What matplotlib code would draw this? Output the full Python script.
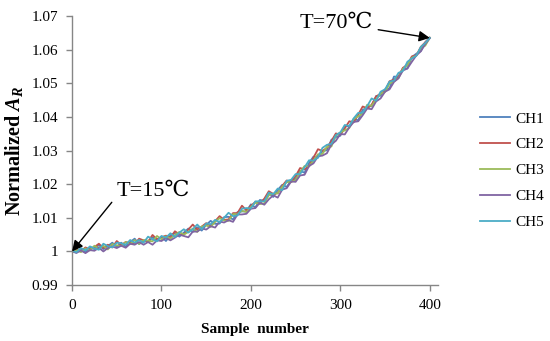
import numpy as np
import matplotlib
matplotlib.use("Agg")
import matplotlib.pyplot as plt
from matplotlib.ticker import FuncFormatter

plt.rcParams["font.family"] = "serif"
plt.rcParams["font.serif"] = ["Liberation Serif", "DejaVu Serif"]
plt.rcParams["mathtext.fontset"] = "custom"
plt.rcParams["mathtext.rm"] = "Liberation Serif:bold"
plt.rcParams["mathtext.it"] = "Liberation Serif:italic:bold"

# sample index (every 5th sample)
samples = list(range(0, 401, 5))

# normalized A_R per channel
ch1 = [1.0000, 0.9996, 1.0008, 0.9997, 1.0013, 1.0007, 1.0019, 1.0007, 1.0016, 1.0026, 1.0014,
       1.0026, 1.0014, 1.0028, 1.0038, 1.0022, 1.0032, 1.0028, 1.0042, 1.0034, 1.0044,
       1.0031, 1.0048, 1.0055, 1.0044, 1.0056, 1.0068, 1.0058, 1.0072, 1.0062, 1.0079,
       1.0091, 1.0082, 1.0083, 1.0102, 1.0103, 1.0095, 1.0117, 1.0119, 1.0119, 1.0140,
       1.0131, 1.0153, 1.0151, 1.0173, 1.0162, 1.0183, 1.0198, 1.0192, 1.0211, 1.0216,
       1.0240, 1.0234, 1.0263, 1.0282, 1.0279, 1.0298, 1.0301, 1.0332, 1.0340, 1.0344,
       1.0374, 1.0371, 1.0394, 1.0390, 1.0421, 1.0428, 1.0433, 1.0462, 1.0463, 1.0482,
       1.0485, 1.0520, 1.0519, 1.0545, 1.0544, 1.0578, 1.0588, 1.0596, 1.0622, 1.0635]
ch2 = [1.0001, 1.0005, 1.0001, 1.0012, 1.0006, 1.0013, 1.0023, 1.0010, 1.0020, 1.0012, 1.0031,
       1.0019, 1.0028, 1.0025, 1.0022, 1.0038, 1.0033, 1.0029, 1.0049, 1.0036, 1.0042,
       1.0047, 1.0041, 1.0060, 1.0051, 1.0050, 1.0065, 1.0080, 1.0065, 1.0074, 1.0084,
       1.0076, 1.0090, 1.0105, 1.0094, 1.0095, 1.0114, 1.0114, 1.0136, 1.0122, 1.0136,
       1.0147, 1.0142, 1.0157, 1.0179, 1.0171, 1.0173, 1.0195, 1.0211, 1.0206, 1.0224,
       1.0248, 1.0244, 1.0253, 1.0279, 1.0304, 1.0299, 1.0308, 1.0328, 1.0351, 1.0347,
       1.0366, 1.0387, 1.0384, 1.0407, 1.0431, 1.0426, 1.0436, 1.0461, 1.0469, 1.0477,
       1.0506, 1.0511, 1.0519, 1.0546, 1.0555, 1.0580, 1.0583, 1.0608, 1.0622, 1.0636]
ch3 = [0.9998, 1.0004, 0.9998, 1.0009, 1.0003, 1.0017, 1.0009, 1.0017, 1.0006, 1.0022, 1.0018,
       1.0016, 1.0028, 1.0022, 1.0034, 1.0022, 1.0034, 1.0032, 1.0030, 1.0046, 1.0036,
       1.0045, 1.0038, 1.0049, 1.0058, 1.0050, 1.0058, 1.0068, 1.0058, 1.0074, 1.0077,
       1.0073, 1.0088, 1.0099, 1.0092, 1.0091, 1.0111, 1.0111, 1.0121, 1.0117, 1.0132,
       1.0145, 1.0141, 1.0143, 1.0167, 1.0172, 1.0173, 1.0192, 1.0206, 1.0207, 1.0212,
       1.0236, 1.0254, 1.0253, 1.0270, 1.0289, 1.0290, 1.0311, 1.0312, 1.0344, 1.0354,
       1.0360, 1.0367, 1.0394, 1.0402, 1.0409, 1.0436, 1.0433, 1.0452, 1.0469, 1.0474,
       1.0499, 1.0506, 1.0515, 1.0543, 1.0554, 1.0576, 1.0582, 1.0604, 1.0612, 1.0635]
ch4 = [1.0000, 0.9996, 1.0003, 0.9995, 1.0004, 1.0002, 1.0011, 1.0000, 1.0010, 1.0015, 1.0010,
       1.0017, 1.0011, 1.0023, 1.0020, 1.0028, 1.0020, 1.0028, 1.0020, 1.0033, 1.0031,
       1.0040, 1.0033, 1.0041, 1.0050, 1.0046, 1.0042, 1.0059, 1.0059, 1.0069, 1.0065,
       1.0075, 1.0071, 1.0089, 1.0086, 1.0093, 1.0088, 1.0110, 1.0110, 1.0112, 1.0127,
       1.0129, 1.0145, 1.0139, 1.0155, 1.0167, 1.0160, 1.0184, 1.0188, 1.0208, 1.0207,
       1.0226, 1.0228, 1.0254, 1.0262, 1.0283, 1.0285, 1.0292, 1.0318, 1.0329, 1.0349,
       1.0348, 1.0369, 1.0385, 1.0387, 1.0405, 1.0425, 1.0423, 1.0446, 1.0455, 1.0475,
       1.0482, 1.0504, 1.0515, 1.0538, 1.0544, 1.0564, 1.0583, 1.0595, 1.0617, 1.0634]
ch5 = [1.0002, 0.9998, 1.0010, 1.0003, 1.0015, 1.0009, 1.0005, 1.0023, 1.0016, 1.0012, 1.0026,
       1.0024, 1.0020, 1.0034, 1.0026, 1.0034, 1.0026, 1.0044, 1.0036, 1.0030, 1.0046,
       1.0041, 1.0054, 1.0043, 1.0056, 1.0066, 1.0056, 1.0066, 1.0080, 1.0066, 1.0083,
       1.0081, 1.0094, 1.0087, 1.0100, 1.0115, 1.0105, 1.0107, 1.0127, 1.0129, 1.0128,
       1.0149, 1.0149, 1.0149, 1.0175, 1.0170, 1.0187, 1.0182, 1.0210, 1.0213, 1.0230,
       1.0230, 1.0250, 1.0271, 1.0270, 1.0279, 1.0308, 1.0317, 1.0320, 1.0346, 1.0354,
       1.0376, 1.0373, 1.0396, 1.0412, 1.0413, 1.0432, 1.0455, 1.0448, 1.0475, 1.0482,
       1.0505, 1.0508, 1.0531, 1.0537, 1.0564, 1.0574, 1.0582, 1.0608, 1.0620, 1.0635]

names = ["CH1", "CH2", "CH3", "CH4", "CH5"]
colors = ["#4F81BD", "#C0504D", "#9BBB59", "#8064A2", "#4BACC6"]

fig = plt.figure(figsize=(5.5, 3.41), dpi=100)
ax = fig.add_axes([0.131, 0.164, 0.665, 0.789])

for y, name, col in zip([ch1, ch2, ch3, ch4, ch5], names, colors):
    ax.plot(samples, y, color=col, lw=1.3, label=name)

ax.set_xlim(0, 409)
ax.set_ylim(0.99, 1.07)
ax.set_xticks([0, 100, 200, 300, 400])
ax.set_yticks(np.arange(0.99, 1.0701, 0.01))
ax.yaxis.set_major_formatter(FuncFormatter(lambda v, p: "%g" % round(v, 2)))

for s in ["top", "right"]:
    ax.spines[s].set_visible(False)
for s in ["left", "bottom"]:
    ax.spines[s].set_color("#868686")
    ax.spines[s].set_linewidth(1.0)
ax.tick_params(direction="out", length=4, width=1.0, color="#868686",
               labelsize=11, pad=6)

ax.set_xlabel("Sample  number", fontsize=11, fontweight="bold", labelpad=8)
ax.set_ylabel("Normalized $A_R$", fontsize=14.5, fontweight="bold", labelpad=5)

cfam = ["Liberation Serif", "DejaVu Serif"]
ax.annotate("T=70\u2103", xy=(400, 1.0635), xytext=(336, 318),
            textcoords="figure pixels", ha="center", va="center",
            fontsize=16, family=cfam,
            arrowprops=dict(arrowstyle="-|>", color="black", lw=1.0,
                            mutation_scale=16, shrinkA=2, shrinkB=0))
ax.annotate("T=15\u2103", xy=(0, 1.0), xytext=(153, 150),
            textcoords="figure pixels", ha="center", va="center",
            fontsize=16, family=cfam,
            arrowprops=dict(arrowstyle="-|>", color="black", lw=1.0,
                            mutation_scale=16, shrinkA=2, shrinkB=0,
                            relpos=(0.0, 0.2)))

fig.legend(loc="center left", bbox_to_anchor=(0.872, 0.500), frameon=False,
           fontsize=11, handlelength=2.0, handletextpad=0.35,
           labelspacing=0.8, borderpad=0, borderaxespad=0)

fig.savefig("out.png", dpi=100)
